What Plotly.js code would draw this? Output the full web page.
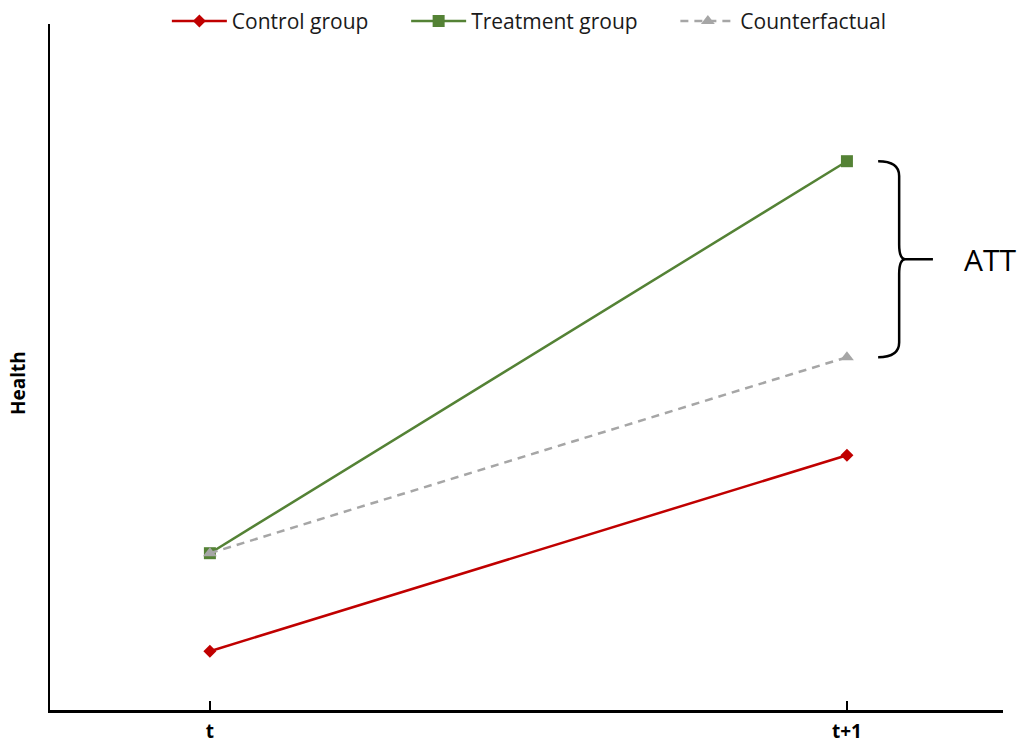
<!DOCTYPE html>
<html>
<head>
<meta charset="utf-8">
<script src="https://cdn.plot.ly/plotly-3.0.1.min.js"></script>
<style>
  html, body { margin: 0; padding: 0; background: #fff; }
  #chart { width: 1018px; height: 744px; }
</style>
</head>
<body>
<div id="chart"></div>
<script>
// Periods on the horizontal axis
const periods = ['t', 't+1'];

// Health outcome per group and period
const controlGroup = [0.6, 2.6];
const treatmentGroup = [1.6, 5.6];
const counterfactual = [1.6, 3.6];

// Legend labels (trailing no-break spaces widen the gap between entries)
const PAD = '\u00a0\u00a0\u00a0\u00a0\u00a0\u00a0';
const seriesNames = ['Control group' + PAD, 'Treatment group' + PAD, 'Counterfactual'];

const FONT = 'Open Sans, Liberation Sans, sans-serif';

const traces = [
  {
    name: seriesNames[0],
    x: periods, y: controlGroup,
    mode: 'lines+markers',
    line: { color: '#C00000', width: 2.5 },
    marker: { symbol: 'diamond', size: 10, color: '#C00000' }
  },
  {
    name: seriesNames[1],
    x: periods, y: treatmentGroup,
    mode: 'lines+markers',
    line: { color: '#548235', width: 2.5 },
    marker: { symbol: 'square', size: 12, color: '#548235' }
  },
  {
    name: seriesNames[2],
    x: periods, y: counterfactual,
    mode: 'lines+markers',
    line: { color: '#A6A6A6', width: 2.5, dash: '8px,6px' },
    marker: { symbol: 'triangle-up', size: 12, color: '#A6A6A6' }
  }
];

// Curly brace spanning the gap between treatment and counterfactual at t+1
const braceTop = treatmentGroup[1];
const braceBot = counterfactual[1];
const braceMid = (braceTop + braceBot) / 2;
const xTip = 1.049, xSpine = 1.082, xCusp = 1.092, xNub = 1.135;
const bend = 0.15;
const bracePath =
  `M ${xTip},${braceTop} Q ${xSpine},${braceTop} ${xSpine},${braceTop - bend} ` +
  `L ${xSpine},${braceMid + bend} Q ${xSpine},${braceMid} ${xCusp},${braceMid} ` +
  `Q ${xSpine},${braceMid} ${xSpine},${braceMid - bend} ` +
  `L ${xSpine},${braceBot + bend} Q ${xSpine},${braceBot} ${xTip},${braceBot} ` +
  `M ${xCusp},${braceMid} L ${xNub},${braceMid}`;

const layout = {
  width: 1018, height: 744,
  margin: { l: 50, r: 15, t: 24, b: 34, autoexpand: false },
  paper_bgcolor: '#fff', plot_bgcolor: '#fff',
  font: { family: FONT, color: '#000' },
  showlegend: true,
  legend: {
    orientation: 'h',
    x: 0.503, xanchor: 'center',
    y: 1.004, yanchor: 'middle',
    font: { family: FONT, size: 21, color: '#1a1a1a' },
    itemwidth: 55,
    traceorder: 'normal',
    bgcolor: 'rgba(0,0,0,0)'
  },
  xaxis: {
    type: 'category',
    range: [-0.251, 1.245],
    showgrid: false, zeroline: false,
    showline: true, linecolor: '#000', linewidth: 2.5,
    ticks: 'inside', ticklen: 9, tickwidth: 2.5, tickcolor: '#000',
    ticklabelstandoff: 3,
    tickfont: { family: FONT, size: 19, color: '#000', weight: 'bold' },
    fixedrange: true
  },
  yaxis: {
    range: [0, 7],
    showgrid: false, zeroline: false,
    showline: true, linecolor: '#000', linewidth: 2.5,
    showticklabels: false, ticks: '',
    fixedrange: true
  },
  shapes: [
    {
      type: 'path', xref: 'x', yref: 'y',
      path: bracePath,
      line: { color: '#000', width: 2.5 }
    }
  ],
  annotations: [
    {
      text: 'ATT', xref: 'x', yref: 'y',
      x: 1.18, y: braceMid, xanchor: 'left', yanchor: 'middle',
      showarrow: false,
      font: { family: FONT, size: 30, color: '#000' }
    },
    {
      text: '<b>Health</b>', xref: 'paper', yref: 'paper',
      x: -0.0336, y: 0.4767, xanchor: 'center', yanchor: 'middle',
      textangle: -90, showarrow: false,
      font: { family: FONT, size: 19, color: '#000' }
    }
  ]
};

Plotly.newPlot('chart', traces, layout, { displayModeBar: false, staticPlot: true });
</script>
</body>
</html>
